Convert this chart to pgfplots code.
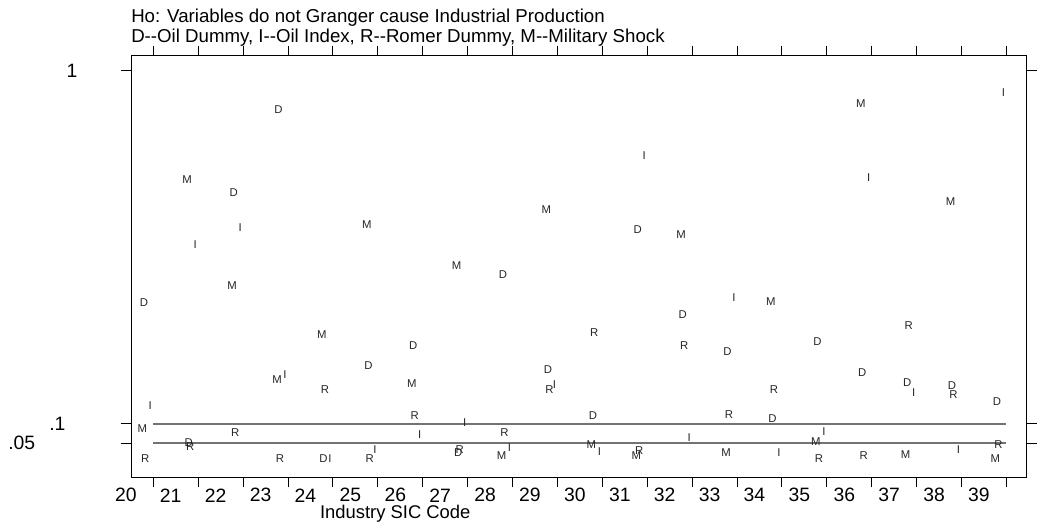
\documentclass[border=0pt]{standalone}
\usepackage{pgfplots}
\pgfplotsset{compat=1.18}
\usepackage{pgfplotstable}
\usepackage{fontspec}
\setmainfont{Liberation Sans}

% p-values of the Granger tests, one column per variable
\pgfplotstableread{
cat D I R M
20 0.409 0.146 0.012 0.088
21 0.051 0.555 0.041 0.723
22 0.689 0.599 0.076 0.451
23 0.899 0.224 0.012 0.211
24 0.012 0.012 0.186 0.326
25 0.249 0.035 0.012 0.607
26 0.298 0.071 0.120 0.203
27 0.026 0.102 0.035 0.503
28 0.479 0.039 0.076 0.018
29 0.237 0.199 0.186 0.645
30 0.120 0.029 0.331 0.046
31 0.594 0.782 0.030 0.018
32 0.377 0.064 0.298 0.582
33 0.283 0.421 0.123 0.026
34 0.114 0.027 0.186 0.410
35 0.308 0.080 0.012 0.053
36 0.229 0.727 0.019 0.916
37 0.204 0.179 0.349 0.021
38 0.197 0.035 0.173 0.665
39 0.155 0.943 0.046 0.012
}\pvals

\pgfplotsset{
  letter/.style 2 args={only marks, mark=none,
    nodes near coords={#1},
    nodes near coords style={anchor=center, inner sep=0pt, xshift=#2,
      font=\fontsize{8.5}{8.5}\selectfont, text=black!85}},
}

\begin{document}
\begin{tikzpicture}
\useasboundingbox (0pt,0pt) rectangle (783.75pt,396.75pt);
\begin{axis}[
    at={(98.25pt,38.8pt)}, anchor=south west,
    width=671.8pt, height=316.2pt, scale only axis,
    xmin=19.503, xmax=39.452,
    ymin=-0.0367, ymax=1.0377,
    axis line style={line width=0.75pt},
    tick style={black, line width=0.75pt},
    tick align=outside, tick pos=both,
    xticklabel pos=lower, yticklabel pos=left,
    major tick length=7.5pt,
    xtick={20,...,39},
    ytick={0.05,0.1,1},
    yticklabels={{.05\hspace*{64.2pt}},{.1\hspace*{41.5pt}},{1\hspace*{32.6pt}}},
    yticklabel style={anchor=east, inner sep=0pt},
    xticklabel style={anchor=center, xshift=-20.6pt, yshift=-6pt},
    ticklabel style={font=\fontsize{14.5}{14.5}\selectfont},
    /pgf/number format/assume math mode=true,
    xlabel={Industry SIC Code},
    xlabel style={at={(axis description cs:0.295,0)}, anchor=center,
      yshift=-27pt, font=\fontsize{13.8}{13.8}\selectfont},
    title={Ho: Variables do not Granger cause Industrial Production\\
           D-{}-Oil Dummy, I-{}-Oil Index, R-{}-Romer Dummy, M-{}-Military Shock},
    title style={at={(axis description cs:0,1)}, anchor=south west,
      align=left, inner sep=0pt, yshift=0.5pt,
      font=\fontsize{14}{15}\selectfont},
    clip=false,
]
\addplot[black!55, line width=1.4pt, forget plot] coordinates {(20,0.1) (39,0.1)};
\addplot[black!55, line width=1.4pt, forget plot] coordinates {(20,0.05) (39,0.05)};
\addplot[letter={D}{-7.1pt}] table[x=cat, y=D] {\pvals};
\addplot[letter={I}{-2.25pt}] table[x=cat, y=I] {\pvals};
\addplot[letter={R}{-6pt}] table[x=cat, y=R] {\pvals};
\addplot[letter={M}{-8.25pt}] table[x=cat, y=M] {\pvals};
\end{axis}
\end{tikzpicture}
\end{document}
